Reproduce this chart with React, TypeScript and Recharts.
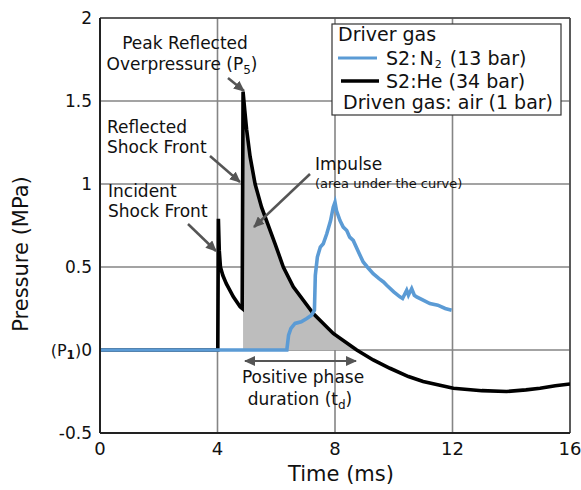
import React from 'react';
import { ComposedChart, Line, Area, XAxis, YAxis, CartesianGrid, ReferenceLine } from 'recharts';

// S2:He (34 bar) trace — time (ms), pressure (MPa)
const heTime = [0, 4.01, 4.03, 4.06, 4.1, 4.18, 4.3, 4.54, 4.77, 4.84, 4.87, 4.93, 4.99, 5.11, 5.28, 5.5, 5.96, 6.24, 6.58, 7.26, 7.94, 8.74, 9.3, 9.87, 10.5, 11.0, 12.03, 13.0, 13.84, 14.5, 14.98, 15.5, 16];
const hePressure = [0, 0, 0.79, 0.6, 0.5, 0.45, 0.4, 0.32, 0.26, 0.25, 1.556, 1.44, 1.33, 1.165, 1.0, 0.86, 0.64, 0.5, 0.38, 0.22, 0.1, 0, -0.06, -0.11, -0.16, -0.19, -0.23, -0.245, -0.25, -0.24, -0.23, -0.215, -0.205];

// S2:N2 (13 bar) trace
const n2Time = [0, 6.36, 6.42, 6.5, 6.64, 6.85, 7.04, 7.2, 7.3, 7.33, 7.4, 7.5, 7.6, 7.72, 7.85, 7.94, 8.0, 8.05, 8.17, 8.28, 8.4, 8.5, 8.62, 8.8, 8.96, 9.1, 9.3, 9.5, 9.65, 9.76, 10.0, 10.21, 10.3, 10.44, 10.5, 10.61, 10.7, 10.78, 11.0, 11.23, 11.5, 11.75, 11.97];
const n2Pressure = [0, 0, 0.09, 0.13, 0.16, 0.17, 0.19, 0.21, 0.24, 0.45, 0.56, 0.62, 0.64, 0.7, 0.78, 0.86, 0.89, 0.84, 0.78, 0.74, 0.72, 0.68, 0.66, 0.59, 0.53, 0.5, 0.46, 0.43, 0.41, 0.39, 0.35, 0.32, 0.31, 0.36, 0.33, 0.37, 0.33, 0.32, 0.3, 0.28, 0.27, 0.25, 0.24];

// positive phase window (impulse shading)
const impulseStart = 4.87;
const impulseEnd = 8.74;

const xTicks = [0, 4, 8, 12, 16];
const yTicks = [-0.5, 0, 0.5, 1, 1.5, 2];

const heData = heTime.map((t, i) => ({ t, p: hePressure[i] }));
const n2Data = n2Time.map((t, i) => ({ t, p: n2Pressure[i] }));
const impulseData = heData.filter((d) => d.t >= impulseStart && d.t <= impulseEnd);

const FONT = '"DejaVu Sans", Verdana, sans-serif';
const TXT = '#111';

const YTick = (props: any) => {
  const { x, y, payload } = props;
  const v = payload.value;
  if (v === 0) {
    return (
      <text x={x} y={y + 6} textAnchor="end" fontSize={17} fill={TXT} fontFamily={FONT}>
        <tspan fontSize={16}>(P</tspan>
        <tspan fontSize={12} fontWeight="bold" dy={3}>1</tspan>
        <tspan fontSize={16} dy={-3}>)</tspan>
        <tspan>0</tspan>
      </text>
    );
  }
  return (
    <text x={x} y={y + 6} textAnchor="end" fontSize={17} fill={TXT} fontFamily={FONT}>
      {String(v)}
    </text>
  );
};

const ARROW = '#555';

export default function App() {
  return (
    <div style={{ position: 'absolute', left: 0, top: 0, width: 581, height: 490, fontFamily: FONT, background: '#fff' }}>
      <ComposedChart width={581} height={490} margin={{ top: 18, right: 11, left: 0, bottom: 0 }}>
        <CartesianGrid stroke="#858585" strokeWidth={1.6} />
        <XAxis
          type="number"
          dataKey="t"
          domain={[0, 16]}
          ticks={xTicks}
          allowDataOverflow
          height={57}
          tickLine={false}
          tickMargin={3}
          tick={{ fontSize: 18, fill: TXT, fontFamily: FONT }}
          axisLine={{ stroke: '#222', strokeWidth: 2 }}
        />
        <YAxis
          type="number"
          dataKey="p"
          domain={[-0.5, 2]}
          ticks={yTicks}
          allowDataOverflow
          width={100}
          tickLine={false}
          tickMargin={2}
          tick={<YTick />}
          axisLine={{ stroke: '#222', strokeWidth: 2 }}
        />
        <ReferenceLine y={2} stroke="#444" strokeWidth={1.5} />
        <ReferenceLine x={16} stroke="#444" strokeWidth={1.5} />
        <Area
          data={impulseData}
          dataKey="p"
          type="linear"
          baseValue={0}
          fill="#bdbdbd"
          fillOpacity={1}
          stroke="none"
          isAnimationActive={false}
        />
        <Line data={heData} dataKey="p" type="linear" stroke="#000" strokeWidth={3.6} dot={false} isAnimationActive={false} />
        <Line data={n2Data} dataKey="p" type="linear" stroke="#5b9bd5" strokeWidth={3.6} dot={false} isAnimationActive={false} />
      </ComposedChart>
      <svg width={581} height={490} style={{ position: 'absolute', left: 0, top: 0, pointerEvents: 'none' }} fontFamily={FONT}>
        <defs>
          <marker id="ah" markerUnits="userSpaceOnUse" markerWidth={11} markerHeight={10} refX={10} refY={5} orient="auto-start-reverse">
            <path d="M0,0 L11,5 L0,10 z" fill={ARROW} />
          </marker>
        </defs>
        {/* axis titles */}
        <text x={341} y={481} textAnchor="middle" fontSize={21} fill={TXT}>Time (ms)</text>
        <text transform="translate(28,254) rotate(-90)" textAnchor="middle" fontSize={21} fill={TXT}>Pressure (MPa)</text>

        {/* legend */}
        <rect x={332} y={24} width={229} height={91} fill="#fff" stroke="#333" strokeWidth={1.2} />
        <text x={338} y={41} fontSize={19} fill={TXT}>Driver gas</text>
        <line x1={338} y1={58} x2={377} y2={58} stroke="#5b9bd5" strokeWidth={3.2} />
        <text x={386} y={65} fontSize={19} fill={TXT}>
          S2:<tspan dx={3}>N</tspan>
          <tspan fontSize={11} dx={1} dy={2.5}>2</tspan>
          <tspan dx={2} dy={-2.5}> (13 bar)</tspan>
        </text>
        <line x1={341} y1={81} x2={379} y2={81} stroke="#000" strokeWidth={3.4} />
        <text x={386} y={88} fontSize={19} fill={TXT}>S2:He (34 bar)</text>
        <text x={343} y={109} fontSize={19} fill={TXT}>Driven gas: air (1 bar)</text>

        {/* annotations */}
        <text x={185} y={49} textAnchor="middle" fontSize={17} fill={TXT}>Peak Reflected</text>
        <text x={182} y={70} textAnchor="middle" fontSize={17} fill={TXT}>
          Overpressure (P<tspan fontSize={12} dy={4}>5</tspan>
          <tspan dy={-4}>)</tspan>
        </text>
        <line x1={228} y1={78} x2={244} y2={91} stroke={ARROW} strokeWidth={2.5} markerEnd="url(#ah)" />

        <text x={107} y={133} fontSize={17} fill={TXT}>Reflected</text>
        <text x={107} y={153} fontSize={17} fill={TXT}>Shock Front</text>
        <line x1={210} y1={156} x2={240} y2={182} stroke={ARROW} strokeWidth={2.5} markerEnd="url(#ah)" />

        <text x={108} y={197} fontSize={17} fill={TXT}>Incident</text>
        <text x={108} y={217} fontSize={17} fill={TXT}>Shock Front</text>
        <line x1={188} y1={224} x2={216} y2={251} stroke={ARROW} strokeWidth={2.5} markerEnd="url(#ah)" />

        <text x={315} y={170} fontSize={17} fill={TXT}>Impulse</text>
        <text x={315} y={188} fontSize={13} fill={TXT}>(area under the curve)</text>
        <line x1={310} y1={174} x2={254} y2={227} stroke={ARROW} strokeWidth={2.5} markerEnd="url(#ah)" />

        <line x1={245} y1={361} x2={356} y2={361} stroke={ARROW} strokeWidth={2} markerStart="url(#ah)" markerEnd="url(#ah)" />
        <text x={303} y={383} textAnchor="middle" fontSize={17} fill={TXT}>Positive phase</text>
        <text x={300} y={405} textAnchor="middle" fontSize={17} fill={TXT}>
          duration (t<tspan fontSize={12} dy={4}>d</tspan>
          <tspan dy={-4}>)</tspan>
        </text>
      </svg>
    </div>
  );
}
